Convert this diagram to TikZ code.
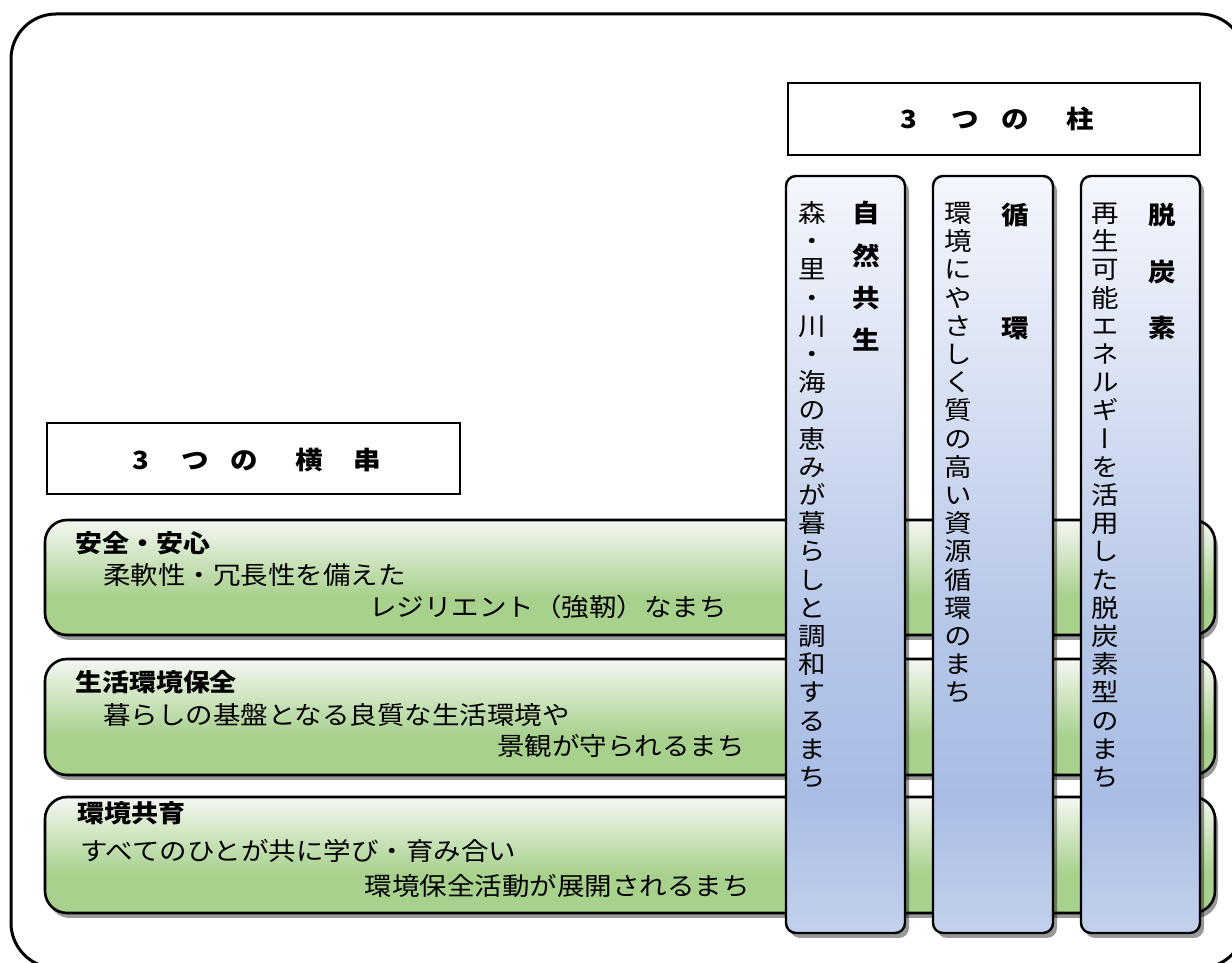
\documentclass[tikz,border=0pt]{standalone}
\usepackage{fontspec}
\setmainfont{Noto Sans CJK JP}[FakeStretch=1.1]
\newfontfamily\vjp{Noto Sans CJK JP}[FakeStretch=1.1,RawFeature=+vert]
\usetikzlibrary{shadows}
\definecolor{gtop}{HTML}{F4F7F2}
\definecolor{gbot}{HTML}{A9D18E}
\definecolor{btop}{HTML}{F4F6FC}
\definecolor{bA}{HTML}{D6DFF2}
\definecolor{bB}{HTML}{B5C6E8}
\definecolor{bC}{HTML}{A9BCE4}
\definecolor{bbot}{HTML}{C3D1EC}
\pgfdeclareverticalshading{greensh}{100bp}{color(0bp)=(gbot); color(25bp)=(gbot); color(42bp)=(gbot); color(75bp)=(gtop); color(100bp)=(gtop)}
\pgfdeclareverticalshading{bluesh}{100bp}{color(0bp)=(bbot); color(25bp)=(bbot); color(34bp)=(bC); color(45bp)=(bB); color(60bp)=(bA); color(75bp)=(btop); color(100bp)=(btop)}
\tikzset{
  frame/.style={draw=black, line width=3pt, rounded corners=45pt, inner sep=0pt, outer sep=0pt},
  titlebox/.style={draw=black, line width=2.4pt, fill=white, inner sep=0pt, outer sep=0pt},
  gbar/.style={draw=black, line width=2.6pt, rounded corners=22pt, shading=greensh, inner sep=0pt, outer sep=0pt,
    drop shadow={shadow xshift=3pt, shadow yshift=-5pt, opacity=0.4, fill=black}},
  bcol/.style={draw=black, line width=2.4pt, rounded corners=10pt, shading=bluesh, inner sep=0pt, outer sep=0pt,
    drop shadow={shadow xshift=4pt, shadow yshift=-5pt, opacity=0.4, fill=black}},
  titletxt/.style={font=\bfseries\fontsize{25}{28}\selectfont, inner sep=0pt, anchor=west},
  hhead/.style={font=\bfseries\fontsize{24.5}{28}\selectfont, inner sep=0pt, anchor=west},
  htxt/.style={font=\fontsize{25}{28}\selectfont, inner sep=0pt},
  vch/.style={font=\vjp\fontsize{25}{28}\selectfont, inner sep=0pt, text height=22pt, text depth=3pt},
  vhd/.style={font=\vjp\bfseries\fontsize{25}{28}\selectfont, inner sep=0pt, text height=22pt, text depth=3pt},
}
\begin{document}
\begin{tikzpicture}[x=1pt,y=1pt]
\useasboundingbox (0,0) rectangle (1232,963);
% outer frame
\node[frame, minimum width=1234pt, minimum height=954pt] (frame) at (628,472) {};
% title boxes
\node[titlebox, minimum width=412pt, minimum height=72pt] (pillars) at (994,844) {};
\node[titletxt] (pillarstxt) at (900.5,844) {3\hspace{34pt}つ\hspace{22.5pt}の\hspace{37.5pt}柱};
\node[titlebox, minimum width=413pt, minimum height=71pt] (cross) at (253.5,504.5) {};
\node[titletxt] (crosstxt) at (132.5,503) {3\hspace{32pt}つ\hspace{21.5pt}の\hspace{37.5pt}横\hspace{30.5pt}串};
% green bars
\node[gbar, minimum width=1170pt, minimum height=115pt] (bar1) at (630,385.5) {};
\node[gbar, minimum width=1170pt, minimum height=116pt] (bar2) at (630,246) {};
\node[gbar, minimum width=1170pt, minimum height=116pt] (bar3) at (630,108) {};
% bar texts
\node[hhead] (b1h) at (75,420) {安全・安心};
\node[htxt, anchor=west] (b1a) at (103,388) {柔軟性・冗長性を備えた};
\node[htxt, anchor=east] (b1b) at (727,356) {レジリエント（強靭）なまち};
\node[hhead] (b2h) at (75,281) {生活環境保全};
\node[htxt, anchor=west] (b2a) at (103,248) {暮らしの基盤となる良質な生活環境や};
\node[htxt, anchor=east] (b2b) at (745,217) {景観が守られるまち};
\node[hhead] (b3h) at (77,150) {環境共育};
\node[htxt, anchor=west] (b3a) at (80,112) {すべてのひとが共に学び・育み合い};
\node[htxt, anchor=east] (b3b) at (750,77) {環境保全活動が展開されるまち};
% blue columns
\node[bcol, minimum width=119pt, minimum height=757pt] (col1) at (845.5,408.5) {};
\node[bcol, minimum width=120pt, minimum height=757pt] (col2) at (993,408.5) {};
\node[bcol, minimum width=119pt, minimum height=757pt] (col3) at (1140.5,408.5) {};
% column headings
\node[vhd] (h1a) at (866,750) {自};
\node[vhd] (h1b) at (866,707) {然};
\node[vhd] (h1c) at (866,665) {共};
\node[vhd] (h1d) at (866,623) {生};
\node[vhd] (h2a) at (1015,748) {循};
\node[vhd] (h2b) at (1015,635) {環};
\node[vhd] (h3a) at (1162,748) {脱};
\node[vhd] (h3b) at (1162,691) {炭};
\node[vhd] (h3c) at (1162,635) {素};
% column body texts
\foreach \c [count=\i] in {森,・,里,・,川,・,海,の,恵,み,が,暮,ら,し,と,調,和,す,る,ま,ち}
  \node[vch] (v1-\i) at (812,{750-(\i-1)*28.2}) {\c};
\foreach \c [count=\i] in {環,境,に,や,さ,し,く,質,の,高,い,資,源,循,環,の,ま,ち}
  \node[vch] (v2-\i) at (958,{750-(\i-1)*28.2}) {\c};
\foreach \c [count=\i] in {再,生,可,能,エ,ネ,ル,ギ,ー,を,活,用,し,た,脱,炭,素,型,の,ま,ち}
  \node[vch] (v3-\i) at (1105,{750-(\i-1)*28.2}) {\c};
\end{tikzpicture}
\end{document}
